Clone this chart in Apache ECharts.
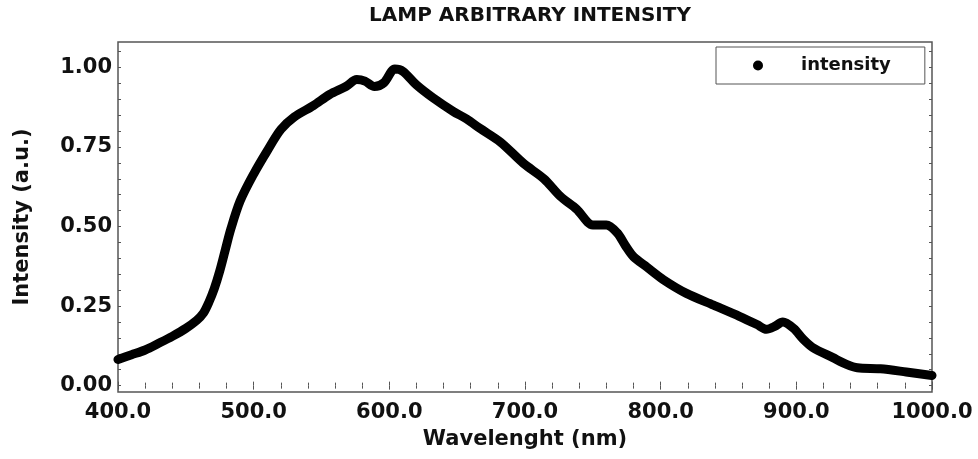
<!DOCTYPE html>
<html>
<head>
<meta charset="utf-8">
<script src="https://cdn.jsdelivr.net/npm/echarts@6/dist/echarts.min.js"></script>
<style>
    html, body { margin: 0; padding: 0; background: #fff; }
    #chart-lamp { width: 978px; height: 459px; }
</style>
</head>
<body>
<div id="chart-lamp"></div>
<script>
var fontName = "DejaVu Sans";

// wavelength (nm) and normalised intensity
var wavelengths = [400, 410, 420, 430, 440, 450, 458, 463, 467, 471, 475, 479, 483, 490, 500, 510, 520, 530, 544, 556,
    568, 576, 582, 589, 596, 604, 610, 620, 632, 647, 657, 667, 682, 699, 714, 726, 738, 750, 760, 768,
    774, 780, 790, 802, 819, 839, 858, 871, 878, 884, 890, 898, 905, 912, 927, 937, 945, 962, 981, 1000];
var intensities = [0.082, 0.097, 0.112, 0.133, 0.155, 0.180, 0.205, 0.228, 0.262, 0.305, 0.360, 0.425, 0.490, 0.580, 0.665, 0.738, 0.805, 0.845, 0.880, 0.915,
    0.940, 0.962, 0.957, 0.940, 0.952, 0.995, 0.988, 0.945, 0.905, 0.862, 0.838, 0.808, 0.765, 0.698, 0.650, 0.595, 0.555, 0.505, 0.505, 0.480,
    0.440, 0.405, 0.372, 0.333, 0.290, 0.253, 0.218, 0.192, 0.177, 0.186, 0.200, 0.180, 0.146, 0.120, 0.088, 0.067, 0.056, 0.053, 0.043, 0.032];

var yLabelValues = [0, 0.25, 0.5, 0.75, 1];
var yTickValues = [0, 0.05, 0.1, 0.15, 0.2, 0.25, 0.3, 0.35, 0.4, 0.45, 0.5, 0.55, 0.6, 0.65, 0.7, 0.75, 0.8, 0.85, 0.9, 0.95, 1, 1.05];

var frameColor = "#555";
var labelStyle = { fontFamily: fontName, fontWeight: "bold", fontSize: 21, color: "#111" };

var seriesData = wavelengths.map((x, ind) => [x, intensities[ind]]);

var myChart = echarts.init(document.getElementById('chart-lamp'));
var option = {
    animation: false,
    backgroundColor: "#fff",
    title: {
        text: 'LAMP ARBITRARY INTENSITY',
        left: 525,
        top: 1,
        textAlign: 'center',
        textStyle: { fontFamily: fontName, fontWeight: "bold", fontSize: 20, color: "#111" }
    },
    legend: {
        data: [{ name: 'intensity', icon: 'circle' }],
        left: 716,
        top: 47,
        itemWidth: 10,
        itemHeight: 10,
        padding: [8, 34, 8, 37],
        borderColor: frameColor,
        borderWidth: 1,
        textStyle: { fontFamily: fontName, fontWeight: "bold", fontSize: 18, color: "#111", lineHeight: 21, padding: [0, 0, 0, 33] }
    },
    grid: {
        left: 118,
        right: 46,
        top: 42,
        bottom: 67,
        show: true,
        borderColor: frameColor,
        borderWidth: 1.5
    },
    xAxis: [{
        type: 'value',
        min: 400,
        max: 1000,
        interval: 100,
        name: 'Wavelenght (nm)',
        nameLocation: 'middle',
        nameGap: 37,
        nameTextStyle: labelStyle,
        axisLine: { show: false },
        axisTick: { show: true, inside: true, length: 4, lineStyle: { color: frameColor } },
        minorTick: { show: true, splitNumber: 5, length: 3, lineStyle: { color: frameColor } },
        splitLine: { show: false },
        axisLabel: Object.assign({ margin: 10, formatter: v => v.toFixed(1) }, labelStyle)
    }, {
        type: 'value',
        position: 'top',
        min: 400,
        max: 1000,
        interval: 100,
        axisLine: { show: false },
        axisTick: { show: true, inside: true, length: 4, lineStyle: { color: frameColor } },
        minorTick: { show: true, splitNumber: 5, length: 3, lineStyle: { color: frameColor } },
        splitLine: { show: false },
        axisLabel: { show: false }
    }],
    yAxis: [{
        type: 'value',
        min: -0.02,
        max: 1.08,
        name: 'Intensity (a.u.)',
        nameLocation: 'middle',
        nameGap: 85,
        nameTextStyle: labelStyle,
        axisLine: { show: false },
        axisTick: { show: true, inside: true, length: 3, customValues: yTickValues, lineStyle: { color: frameColor } },
        splitLine: { show: false },
        axisLabel: Object.assign({ margin: 6, customValues: yLabelValues, formatter: v => v.toFixed(2) }, labelStyle)
    }, {
        type: 'value',
        position: 'right',
        min: -0.02,
        max: 1.08,
        axisLine: { show: false },
        axisTick: { show: true, inside: true, length: 3, customValues: yTickValues, lineStyle: { color: frameColor } },
        splitLine: { show: false },
        axisLabel: { show: false }
    }],
    series: [{
        name: 'intensity',
        type: 'line',
        xAxisIndex: 0,
        yAxisIndex: 0,
        data: seriesData,
        smooth: 0.3,
        showSymbol: false,
        symbol: 'circle',
        itemStyle: { color: '#000' },
        lineStyle: { color: '#000', width: 9, cap: 'round', join: 'round' }
    }]
};
myChart.setOption(option);
</script>
</body>
</html>
